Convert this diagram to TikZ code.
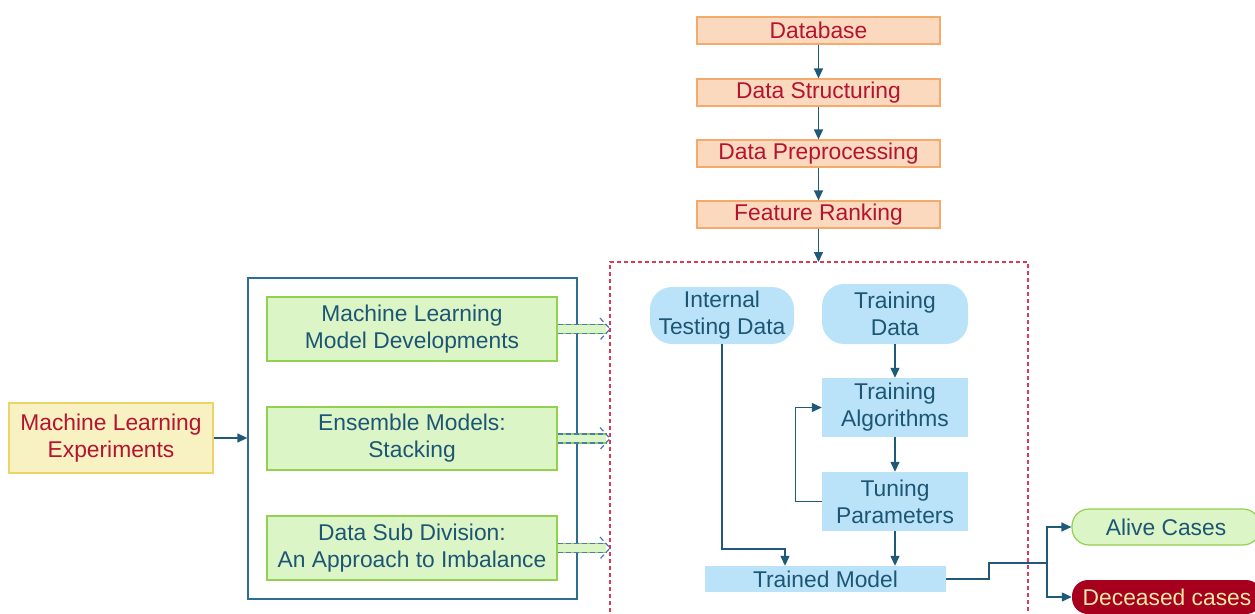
\documentclass[tikz,border=0pt]{standalone}
\usepackage{fontspec}
\setmainfont{Liberation Sans}
\usetikzlibrary{arrows.meta,calc}
\definecolor{ofill}{HTML}{FBD9BE}
\definecolor{oline}{HTML}{F5A96B}
\definecolor{dred}{HTML}{B5132F}
\definecolor{bfill}{HTML}{BAE3FA}
\definecolor{btext}{HTML}{1D5675}
\definecolor{arrc}{HTML}{1F5A78}
\definecolor{gfill}{HTML}{DCF5C6}
\definecolor{gline}{HTML}{92D050}
\definecolor{yfill}{HTML}{F8F1C2}
\definecolor{yline}{HTML}{EBD56A}
\definecolor{outc}{HTML}{2D6E94}
\definecolor{rdash}{HTML}{D63C55}
\definecolor{decfill}{HTML}{A6001E}
\definecolor{dectext}{HTML}{F5E9A8}
\definecolor{dashb}{HTML}{4A78B8}
\tikzset{
  base/.style={inner sep=0pt, align=center},
  obox/.style={base, fill=ofill, draw=oline, line width=1.2pt, minimum width=243pt, minimum height=27pt, text=dred},
  gbox/.style={base, fill=gfill, draw=gline, line width=1.2pt, minimum width=290pt, text=btext},
  ybox/.style={base, fill=yfill, draw=yline, line width=1.2pt, text=dred},
  bpill/.style={base, fill=bfill, rounded corners=22pt, text=btext},
  bbox/.style={base, fill=bfill, text=btext, minimum width=146pt},
  arr/.style={draw=arrc, line width=1.3pt, -{Triangle[length=10pt,width=9pt]}},
  ln/.style={draw=arrc, line width=1.3pt},
}
\begin{document}
\begin{tikzpicture}[x=1pt,y=-1pt, font=\fontsize{22.8}{27}\selectfont]
\useasboundingbox (0,0) rectangle (1255,613);
\clip (0,0) rectangle (1255,613);
% top chain
\node[obox] (db) at (818.5,30.5) {Database};
\node[obox] (ds) at (818.5,92.5) {Data Structuring};
\node[obox] (dp) at (818.5,153.5) {Data Preprocessing};
\node[obox] (fr) at (818.5,214.5) {Feature Ranking};
\draw[arr] (db) -- (ds);
\draw[arr] (ds) -- (dp);
\draw[arr] (dp) -- (fr);
% dashed red frame
\coordinate (dtl) at (610,262);
\coordinate (dtr) at (1028,262);
\draw[rdash, line width=1.1pt, dash pattern=on 4pt off 3pt] (610,640) -- (dtl) -- (dtr) -- (1028,640);
\draw[arr] (fr.south) -- (fr.south |- dtl);
% left part
\node[draw=outc, line width=1.3pt, minimum width=329pt, minimum height=321pt, inner sep=0pt] (grp) at (412.5,438.5) {};
\node[gbox, minimum height=64pt] (mld) at (412,329) {Machine Learning\\Model Developments};
\node[gbox, minimum height=63pt] (ens) at (412,438.5) {Ensemble Models:\\Stacking};
\node[gbox, minimum height=64pt] (dsd) at (412,548) {Data Sub Division:\\An Approach to Imbalance};
\node[ybox, minimum width=204pt, minimum height=70pt] (mle) at (111,438) {Machine Learning\\Experiments};
\draw[arr] (mle.east) -- (mle.east -| grp.west);
% hollow dashed arrows
\foreach \g in {mld,ens,dsd}{
  \coordinate (s) at (\g.east);
  \coordinate (e) at (\g.east -| dtl);
  \fill[gfill] ($(s)+(0,-4.5)$) rectangle ($(e)+(-4,4.5)$);
  \draw[gline, line width=1.2pt] ($(s)+(0,-4.5)$) -- ($(e)+(-4,-4.5)$) ($(s)+(0,4.5)$) -- ($(e)+(-4,4.5)$);
  \draw[dashb, line width=1.2pt, dash pattern=on 5pt off 3pt] ($(s)+(0,-4.5)$) -- ($(e)+(-4,-4.5)$) ($(s)+(0,4.5)$) -- ($(e)+(-4,4.5)$);
  \draw[dashb, line width=1.2pt, dash pattern=on 5pt off 3pt] ($(e)+(-10,-11)$) -- (e) -- ($(e)+(-10,11)$);
}
% inner flow
\node[bpill, minimum width=144pt, minimum height=57pt] (itd) at (722,315.5) {Internal\\Testing Data};
\node[bpill, minimum width=146pt, minimum height=60pt] (td) at (895,314) {Training\\Data};
\node[bbox, minimum height=59pt] (ta) at (895,407.5) {Training\\Algorithms};
\node[bbox, minimum height=59pt] (tp) at (895,501.5) {Tuning\\Parameters};
\node[bbox, minimum width=241pt, minimum height=26pt] (tm) at (825.5,579) {Trained Model};
\draw[arr] (td) -- (ta);
\draw[arr] (ta) -- (tp);
\draw[arr] (tp.south) -- (tp.south |- tm.north);
\draw[arr] (tp.west) -- ++(-26,0) |- (ta.west);
\coordinate (k) at (785,549);
\draw[arr] (itd.south) |- (k) -- (k |- tm.north);
% outcomes
\node[base, fill=gfill, draw=gline, line width=1.2pt, rounded corners=17pt, minimum width=188pt, minimum height=36pt, text=btext] (alive) at (1166,527) {Alive Cases};
\node[base, fill=decfill, rounded corners=16pt, minimum width=190pt, minimum height=34pt, text=dectext] (dec) at (1167,597) {Deceased cases};
\coordinate (j1) at (989,563);
\coordinate (j2) at (1047,563);
\draw[ln] (tm.east) -| (j1) -- (j2);
\draw[arr] (j2) |- (alive.west);
\draw[arr] (j2) |- (dec.west);
\end{tikzpicture}
\end{document}
